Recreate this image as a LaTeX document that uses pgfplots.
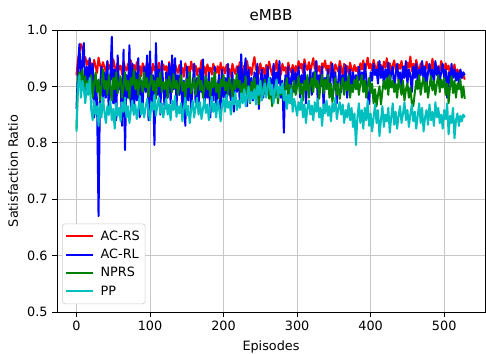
\documentclass[border=0pt]{standalone}
\usepackage{pgfplots}
\pgfplotsset{compat=1.18}
\usepackage{fontspec}
\setmainfont{DejaVu Sans}
\definecolor{mplgreen}{rgb}{0,0.5,0}
\definecolor{mplcyan}{rgb}{0,0.75,0.75}
\begin{document}
\begin{tikzpicture}[font=\fontsize{9.6pt}{11.5pt}\selectfont]
\begin{axis}[name=ax, scale only axis, width=321pt, height=211.5pt,
  xmin=-26.5, xmax=555.5, ymin=0.5, ymax=1.0,
  xtick={0,100,200,300,400,500}, ytick={0.5,0.6,0.7,0.8,0.9,1.0},
  yticklabel style={/pgf/number format/fixed, /pgf/number format/precision=1, /pgf/number format/fixed zerofill},
  /pgf/number format/assume math mode=true,
  tick align=outside, tick pos=left, major tick length=3.6pt,
  tick style={black, line width=0.6pt},
  axis line style={line width=0.6pt},
  grid=major, major grid style={black!22, line width=0.6pt},
  title={eMBB}, title style={font=\fontsize{11.3pt}{13.5pt}\selectfont, yshift=-2.5pt},
  xlabel={Episodes}, ylabel={Satisfaction Ratio},
  legend style={at={(0.012,0.028)}, anchor=south west, draw=black!20, rounded corners=2pt,
    font=\fontsize{9.6pt}{11.5pt}\selectfont, row sep=1.2pt, column sep=3pt, inner xsep=2pt, inner ysep=3pt},
  legend cell align=left,
  legend image code/.code={\draw[#1, line width=1.5pt] (0cm,0cm) -- (0.71cm,0cm);},
  every axis plot/.append style={line width=1.5pt, line join=round},
]
\addplot[color=red] coordinates {
(0,0.920)(2,0.948)(4,0.962)(6,0.975)(8,0.968)(10,0.944)(12,0.952)(14,0.938)(16,0.946)(18,0.932)
(20,0.941)(22,0.928)(24,0.947)(26,0.935)(28,0.924)(30,0.951)(32,0.938)(34,0.929)(36,0.943)(38,0.934)
(40,0.926)(42,0.944)(44,0.931)(46,0.939)(48,0.922)(50,0.948)(52,0.936)(54,0.927)(56,0.942)(58,0.930)
(60,0.937)(62,0.921)(64,0.945)(66,0.933)(68,0.928)(70,0.940)(72,0.925)(74,0.946)(76,0.931)(78,0.938)
(80,0.924)(82,0.943)(84,0.929)(86,0.936)(88,0.918)(90,0.941)(92,0.932)(94,0.927)(96,0.944)(98,0.930)
(100,0.935)(102,0.922)(104,0.940)(106,0.928)(108,0.937)(110,0.919)(112,0.942)(114,0.931)(116,0.926)(118,0.939)
(120,0.929)(122,0.936)(124,0.918)(126,0.943)(128,0.927)(130,0.934)(132,0.921)(134,0.940)(136,0.930)(138,0.924)
(140,0.938)(142,0.926)(144,0.933)(146,0.917)(148,0.941)(150,0.929)(152,0.935)(154,0.922)(156,0.944)(158,0.931)
(160,0.925)(162,0.937)(164,0.920)(166,0.932)(168,0.928)(170,0.946)(172,0.923)(174,0.935)(176,0.918)(178,0.939)
(180,0.927)(182,0.933)(184,0.921)(186,0.940)(188,0.930)(190,0.924)(192,0.936)(194,0.919)(196,0.942)(198,0.928)
(200,0.934)(202,0.923)(204,0.938)(206,0.926)(208,0.931)(210,0.917)(212,0.940)(214,0.929)(216,0.922)(218,0.936)
(220,0.925)(222,0.943)(224,0.930)(226,0.921)(228,0.937)(230,0.928)(232,0.945)(234,0.926)(236,0.934)(238,0.920)
(240,0.939)(242,0.952)(244,0.929)(246,0.936)(248,0.922)(250,0.941)(252,0.927)(254,0.933)(256,0.918)(258,0.938)
(260,0.926)(262,0.944)(264,0.931)(266,0.920)(268,0.937)(270,0.929)(272,0.946)(274,0.924)(276,0.935)(278,0.921)
(280,0.940)(282,0.928)(284,0.934)(286,0.919)(288,0.942)(290,0.930)(292,0.925)(294,0.938)(296,0.922)(298,0.936)
(300,0.927)(302,0.945)(304,0.932)(306,0.940)(308,0.924)(310,0.948)(312,0.935)(314,0.929)(316,0.943)(318,0.926)
(320,0.938)(322,0.950)(324,0.931)(326,0.944)(328,0.927)(330,0.936)(332,0.922)(334,0.941)(336,0.933)(338,0.946)
(340,0.928)(342,0.937)(344,0.924)(346,0.943)(348,0.930)(350,0.921)(352,0.939)(354,0.932)(356,0.926)(358,0.945)
(360,0.933)(362,0.920)(364,0.940)(366,0.929)(368,0.936)(370,0.923)(372,0.942)(374,0.931)(376,0.925)(378,0.938)
(380,0.927)(382,0.934)(384,0.919)(386,0.941)(388,0.930)(390,0.946)(392,0.924)(394,0.937)(396,0.951)(398,0.932)
(400,0.940)(402,0.928)(404,0.947)(406,0.935)(408,0.925)(410,0.943)(412,0.931)(414,0.938)(416,0.922)(418,0.944)
(420,0.933)(422,0.950)(424,0.929)(426,0.941)(428,0.926)(430,0.937)(432,0.946)(434,0.930)(436,0.924)(438,0.939)
(440,0.931)(442,0.945)(444,0.928)(446,0.936)(448,0.921)(450,0.942)(452,0.933)(454,0.953)(456,0.927)(458,0.940)
(460,0.929)(462,0.947)(464,0.934)(466,0.925)(468,0.941)(470,0.930)(472,0.937)(474,0.923)(476,0.944)(478,0.932)
(480,0.938)(482,0.926)(484,0.949)(486,0.931)(488,0.940)(490,0.922)(492,0.936)(494,0.928)(496,0.945)(498,0.933)
(500,0.925)(502,0.941)(504,0.930)(506,0.937)(508,0.920)(510,0.934)(512,0.927)(514,0.939)(516,0.918)(518,0.930)
(520,0.922)(522,0.928)(524,0.915)(526,0.921)(528,0.912)
};
\addlegendentry{AC-RS}
\addplot[color=blue] coordinates {
(0,0.860)(2,0.930)(4,0.975)(6,0.900)(8,0.945)(10,0.977)(12,0.880)(14,0.935)(16,0.905)(18,0.950)
(20,0.890)(22,0.940)(24,0.845)(26,0.920)(28,0.870)(30,0.670)(32,0.900)(34,0.935)(36,0.860)(38,0.925)
(40,0.880)(42,0.945)(44,0.850)(46,0.915)(48,0.988)(50,0.870)(52,0.930)(54,0.840)(56,0.955)(58,0.895)
(60,0.905)(62,0.830)(64,0.965)(66,0.787)(68,0.920)(70,0.880)(72,0.973)(74,0.860)(76,0.940)(78,0.850)
(80,0.925)(82,0.875)(84,0.950)(86,0.845)(88,0.910)(90,0.865)(92,0.935)(94,0.890)(96,0.955)(98,0.840)
(100,0.962)(102,0.870)(104,0.920)(106,0.796)(108,0.977)(110,0.885)(112,0.930)(114,0.850)(116,0.945)(118,0.900)
(120,0.860)(122,0.925)(124,0.880)(126,0.940)(128,0.870)(130,0.955)(132,0.895)(134,0.950)(136,0.865)(138,0.920)
(140,0.885)(142,0.945)(144,0.850)(146,0.910)(148,0.830)(150,0.935)(152,0.875)(154,0.925)(156,0.860)(158,0.900)
(160,0.940)(162,0.870)(164,0.915)(166,0.855)(168,0.930)(170,0.890)(172,0.948)(174,0.865)(176,0.905)(178,0.880)
(180,0.925)(182,0.845)(184,0.910)(186,0.875)(188,0.935)(190,0.860)(192,0.900)(194,0.920)(196,0.850)(198,0.930)
(200,0.880)(202,0.915)(204,0.865)(206,0.940)(208,0.895)(210,0.875)(212,0.925)(214,0.855)(216,0.910)(218,0.890)
(220,0.935)(222,0.870)(224,0.957)(226,0.885)(228,0.920)(230,0.950)(232,0.865)(234,0.930)(236,0.895)(238,0.915)
(240,0.875)(242,0.925)(244,0.890)(246,0.940)(248,0.860)(250,0.910)(252,0.930)(254,0.880)(256,0.920)(258,0.900)
(260,0.935)(262,0.885)(264,0.915)(266,0.870)(268,0.940)(270,0.895)(272,0.925)(274,0.905)(276,0.945)(278,0.880)
(280,0.910)(282,0.818)(284,0.920)(286,0.895)(288,0.935)(290,0.875)(292,0.915)(294,0.930)(296,0.890)(298,0.925)
(300,0.900)(302,0.935)(304,0.880)(306,0.920)(308,0.905)(310,0.940)(312,0.870)(314,0.915)(316,0.895)(318,0.930)
(320,0.885)(322,0.925)(324,0.910)(326,0.945)(328,0.875)(330,0.920)(332,0.900)(334,0.935)(336,0.865)(338,0.915)
(340,0.905)(342,0.930)(344,0.885)(346,0.920)(348,0.940)(350,0.895)(352,0.925)(354,0.870)(356,0.910)(358,0.935)
(360,0.890)(362,0.920)(364,0.900)(366,0.938)(368,0.880)(370,0.915)(372,0.930)(374,0.895)(376,0.925)(378,0.905)
(380,0.920)(382,0.895)(384,0.935)(386,0.910)(388,0.925)(390,0.900)(392,0.940)(394,0.915)(396,0.885)(398,0.869)
(400,0.925)(402,0.910)(404,0.940)(406,0.920)(408,0.930)(410,0.905)(412,0.945)(414,0.915)(416,0.935)(418,0.900)
(420,0.930)(422,0.915)(424,0.942)(426,0.905)(428,0.925)(430,0.935)(432,0.895)(434,0.920)(436,0.940)(438,0.910)
(440,0.925)(442,0.900)(444,0.935)(446,0.915)(448,0.945)(450,0.905)(452,0.930)(454,0.920)(456,0.890)(458,0.935)
(460,0.915)(462,0.940)(464,0.905)(466,0.930)(468,0.920)(470,0.945)(472,0.910)(474,0.935)(476,0.900)(478,0.925)
(480,0.940)(482,0.915)(484,0.930)(486,0.905)(488,0.945)(490,0.920)(492,0.935)(494,0.910)(496,0.925)(498,0.940)
(500,0.915)(502,0.930)(504,0.880)(506,0.925)(508,0.905)(510,0.940)(512,0.915)(514,0.930)(516,0.910)(518,0.925)
(520,0.905)(522,0.930)(524,0.915)(526,0.925)(528,0.920)
};
\addlegendentry{AC-RL}
\addplot[color=mplgreen] coordinates {
(0,0.825)(2,0.915)(4,0.925)(6,0.905)(8,0.930)(10,0.895)(12,0.918)(14,0.885)(16,0.910)(18,0.900)
(20,0.920)(22,0.880)(24,0.905)(26,0.925)(28,0.890)(30,0.912)(32,0.875)(34,0.900)(36,0.930)(38,0.895)
(40,0.910)(42,0.885)(44,0.920)(46,0.900)(48,0.875)(50,0.915)(52,0.895)(54,0.925)(56,0.888)(58,0.905)
(60,0.918)(62,0.880)(64,0.900)(66,0.925)(68,0.893)(70,0.910)(72,0.878)(74,0.915)(76,0.902)(78,0.930)
(80,0.895)(82,0.912)(84,0.885)(86,0.920)(88,0.905)(90,0.890)(92,0.925)(94,0.898)(96,0.915)(98,0.882)
(100,0.905)(102,0.920)(104,0.893)(106,0.910)(108,0.878)(110,0.915)(112,0.900)(114,0.925)(116,0.890)(118,0.908)
(120,0.895)(122,0.912)(124,0.880)(126,0.918)(128,0.903)(130,0.890)(132,0.922)(134,0.897)(136,0.910)(138,0.885)
(140,0.905)(142,0.920)(144,0.892)(146,0.908)(148,0.877)(150,0.913)(152,0.898)(154,0.925)(156,0.888)(158,0.902)
(160,0.915)(162,0.885)(164,0.905)(166,0.920)(168,0.893)(170,0.910)(172,0.880)(174,0.900)(176,0.918)(178,0.895)
(180,0.908)(182,0.882)(184,0.915)(186,0.898)(188,0.925)(190,0.890)(192,0.905)(194,0.878)(196,0.912)(198,0.900)
(200,0.920)(202,0.893)(204,0.908)(206,0.885)(208,0.915)(210,0.902)(212,0.880)(214,0.912)(216,0.895)(218,0.922)
(220,0.898)(222,0.910)(224,0.875)(226,0.905)(228,0.890)(230,0.918)(232,0.883)(234,0.900)(236,0.870)(238,0.908)
(240,0.893)(242,0.915)(244,0.880)(246,0.902)(248,0.868)(250,0.910)(252,0.895)(254,0.885)(256,0.912)(258,0.890)
(260,0.900)(262,0.878)(264,0.905)(266,0.865)(268,0.892)(270,0.880)(272,0.910)(274,0.870)(276,0.895)(278,0.885)
(280,0.905)(282,0.875)(284,0.898)(286,0.915)(288,0.882)(290,0.903)(292,0.870)(294,0.895)(296,0.910)(298,0.885)
(300,0.900)(302,0.918)(304,0.887)(306,0.905)(308,0.875)(310,0.910)(312,0.893)(314,0.920)(316,0.880)(318,0.902)
(320,0.915)(322,0.890)(324,0.925)(326,0.898)(328,0.910)(330,0.878)(332,0.905)(334,0.920)(336,0.888)(338,0.912)
(340,0.895)(342,0.920)(344,0.880)(346,0.905)(348,0.872)(350,0.898)(352,0.915)(354,0.885)(356,0.905)(358,0.878)
(360,0.900)(362,0.915)(364,0.885)(366,0.908)(368,0.893)(370,0.920)(372,0.880)(374,0.903)(376,0.890)(378,0.912)
(380,0.895)(382,0.918)(384,0.885)(386,0.905)(388,0.920)(390,0.890)(392,0.910)(394,0.880)(396,0.902)(398,0.915)
(400,0.888)(402,0.905)(404,0.870)(406,0.895)(408,0.865)(410,0.885)(412,0.900)(414,0.868)(416,0.892)(418,0.910)
(420,0.895)(422,0.915)(424,0.885)(426,0.920)(428,0.898)(430,0.910)(432,0.890)(434,0.905)(436,0.880)(438,0.912)
(440,0.900)(442,0.885)(444,0.910)(446,0.875)(448,0.895)(450,0.905)(452,0.880)(454,0.898)(456,0.870)(458,0.865)
(460,0.888)(462,0.910)(464,0.895)(466,0.920)(468,0.885)(470,0.905)(472,0.915)(474,0.890)(476,0.908)(478,0.880)
(480,0.900)(482,0.918)(484,0.893)(486,0.910)(488,0.885)(490,0.905)(492,0.920)(494,0.890)(496,0.912)(498,0.898)
(500,0.915)(502,0.885)(504,0.905)(506,0.870)(508,0.900)(510,0.918)(512,0.888)(514,0.910)(516,0.880)(518,0.905)
(520,0.895)(522,0.912)(524,0.880)(526,0.900)(528,0.878)
};
\addlegendentry{NPRS}
\addplot[color=mplcyan] coordinates {
(0,0.820)(2,0.900)(4,0.920)(6,0.880)(8,0.910)(10,0.895)(12,0.870)(14,0.905)(16,0.885)(18,0.915)
(20,0.860)(22,0.840)(24,0.875)(26,0.850)(28,0.865)(30,0.830)(32,0.870)(34,0.845)(36,0.880)(38,0.855)
(40,0.835)(42,0.865)(44,0.850)(46,0.875)(48,0.840)(50,0.860)(52,0.825)(54,0.870)(56,0.848)(58,0.862)
(60,0.838)(62,0.872)(64,0.855)(66,0.880)(68,0.845)(70,0.865)(72,0.835)(74,0.858)(76,0.875)(78,0.850)
(80,0.868)(82,0.842)(84,0.860)(86,0.883)(88,0.850)(90,0.870)(92,0.845)(94,0.862)(96,0.878)(98,0.855)
(100,0.840)(102,0.872)(104,0.858)(106,0.885)(108,0.848)(110,0.866)(112,0.880)(114,0.852)(116,0.870)(118,0.845)
(120,0.862)(122,0.878)(124,0.850)(126,0.868)(128,0.840)(130,0.875)(132,0.858)(134,0.883)(136,0.846)(138,0.865)
(140,0.852)(142,0.870)(144,0.838)(146,0.862)(148,0.880)(150,0.848)(152,0.866)(154,0.835)(156,0.858)(158,0.875)
(160,0.845)(162,0.863)(164,0.880)(166,0.850)(168,0.872)(170,0.842)(172,0.860)(174,0.878)(176,0.853)(178,0.868)
(180,0.840)(182,0.865)(184,0.882)(186,0.855)(188,0.870)(190,0.845)(192,0.875)(194,0.860)(196,0.838)(198,0.868)
(200,0.878)(202,0.855)(204,0.885)(206,0.862)(208,0.873)(210,0.850)(212,0.880)(214,0.868)(216,0.890)(218,0.858)
(220,0.875)(222,0.862)(224,0.888)(226,0.870)(228,0.895)(230,0.865)(232,0.882)(234,0.900)(236,0.872)(238,0.890)
(240,0.878)(242,0.895)(244,0.868)(246,0.902)(248,0.885)(250,0.910)(252,0.875)(254,0.893)(256,0.905)(258,0.880)
(260,0.898)(262,0.915)(264,0.885)(266,0.903)(268,0.870)(270,0.895)(272,0.912)(274,0.880)(276,0.900)(278,0.888)
(280,0.905)(282,0.875)(284,0.892)(286,0.860)(288,0.885)(290,0.870)(292,0.895)(294,0.855)(296,0.878)(298,0.865)
(300,0.848)(302,0.872)(304,0.858)(306,0.880)(308,0.845)(310,0.868)(312,0.835)(314,0.862)(316,0.875)(318,0.850)
(320,0.866)(322,0.840)(324,0.872)(326,0.855)(328,0.878)(330,0.845)(332,0.862)(334,0.830)(336,0.868)(338,0.852)
(340,0.875)(342,0.848)(344,0.865)(346,0.838)(348,0.870)(350,0.855)(352,0.880)(354,0.842)(356,0.860)(358,0.872)
(360,0.850)(362,0.868)(364,0.835)(366,0.858)(368,0.845)(370,0.870)(372,0.840)(374,0.862)(376,0.828)(378,0.852)
(380,0.796)(382,0.845)(384,0.870)(386,0.835)(388,0.858)(390,0.825)(392,0.862)(394,0.840)(396,0.875)(398,0.830)
(400,0.852)(402,0.820)(404,0.845)(406,0.868)(408,0.835)(410,0.858)(412,0.812)(414,0.840)(416,0.865)(418,0.828)
(420,0.850)(422,0.838)(424,0.862)(426,0.818)(428,0.845)(430,0.870)(432,0.832)(434,0.855)(436,0.825)(438,0.848)
(440,0.865)(442,0.835)(444,0.852)(446,0.872)(448,0.840)(450,0.858)(452,0.828)(454,0.850)(456,0.868)(458,0.838)
(460,0.855)(462,0.825)(464,0.848)(466,0.870)(468,0.835)(470,0.862)(472,0.820)(474,0.845)(476,0.858)(478,0.832)
(480,0.868)(482,0.840)(484,0.855)(486,0.830)(488,0.872)(490,0.845)(492,0.862)(494,0.835)(496,0.850)(498,0.825)
(500,0.858)(502,0.842)(504,0.870)(506,0.815)(508,0.848)(510,0.835)(512,0.862)(514,0.808)(516,0.840)(518,0.852)
(520,0.830)(522,0.848)(524,0.838)(526,0.850)(528,0.845)
};
\addlegendentry{PP}
\end{axis}
\pgfresetboundingbox
\path ([xshift=-42.75pt,yshift=-31.5pt]ax.south west) rectangle ([xshift=0.75pt,yshift=22.5pt]ax.north east);
\end{tikzpicture}
\end{document}
